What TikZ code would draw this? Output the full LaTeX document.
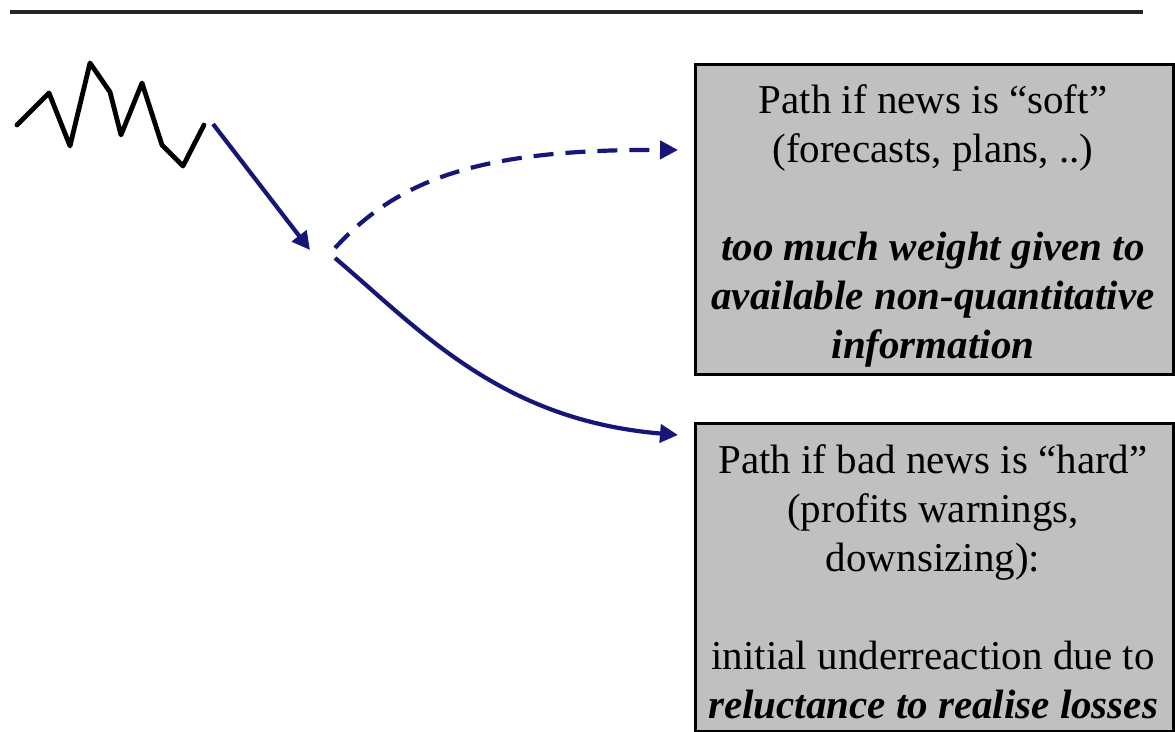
\documentclass[tikz,border=0pt]{standalone}
\usepackage{fontspec}
\setmainfont{Liberation Serif}
\usetikzlibrary{arrows.meta}
\definecolor{navyarrow}{RGB}{22,22,120}
\definecolor{boxgray}{RGB}{192,192,192}
\begin{document}
\begin{tikzpicture}[x=1pt,y=-1pt,
  pathbox/.style={draw=black,line width=2.8pt,fill=boxgray,inner sep=0pt,minimum width=478pt,anchor=north west},
  linetxt/.style={anchor=base,inner sep=0pt,font=\fontsize{41}{49}\selectfont},
  emtxt/.style={anchor=base,inner sep=0pt,font=\fontsize{41}{49}\selectfont\bfseries\itshape},
  flow/.style={draw=navyarrow,line width=4.2pt,-{Triangle[length=18pt,width=18pt]}},
  zigzag/.style={draw=black,line width=4.8pt,line join=round,line cap=round},
]
\useasboundingbox (0,0) rectangle (1175,731);
\fill[white] (0,0) rectangle (1175,731);

% top rule
\coordinate (ruleL) at (10,12);
\coordinate (ruleR) at (1143,12);
\draw[line width=3.6pt,black!85] (ruleL) -- (ruleR);

% price zigzag
\draw[zigzag] (17,125) -- (49,93) -- (70,146) -- (90,63) -- (110,92) -- (121,135)
  -- (142,83) -- (162,145) -- (183,166) -- (204,125);

% boxes
\node[pathbox,minimum height=310pt] (box1) at (694,63) {};
\node[pathbox,minimum height=308pt] (box2) at (694,422) {};

% box 1 text
\node[linetxt] (b1a) at (933,113) {Path if news is “soft”};
\node[linetxt] (b1b) at (933,162) {(forecasts, plans, ..)};
\node[emtxt] (b1c) at (933,260) {too much weight given to};
\node[emtxt] (b1d) at (933,309) {available non-quantitative};
\node[emtxt] (b1e) at (933,358) {information};

% box 2 text
\node[linetxt] (b2a) at (933,473) {Path if bad news is “hard”};
\node[linetxt] (b2b) at (933,522) {(profits warnings,};
\node[linetxt] (b2c) at (933,571) {downsizing):};
\node[linetxt] (b2d) at (933,669) {initial underreaction due to};
\node[emtxt] (b2e) at (933,718) {reluctance to realise losses};

% connectors
\coordinate (zend) at (213,124);
\coordinate (fork) at (310,250);
\coordinate (softstart) at (335,248);
\coordinate (hardstart) at (335,258);
\coordinate (softtip) at (678,150);
\coordinate (hardtip) at (678,435);

\draw[flow] (zend) -- (fork);
\draw[flow,dash pattern=on 20pt off 12pt] (softstart) .. controls (400,177) and (485,149) .. (softtip);
\draw[flow] (hardstart) .. controls (420,330) and (500,420) .. (hardtip);
\end{tikzpicture}
\end{document}
